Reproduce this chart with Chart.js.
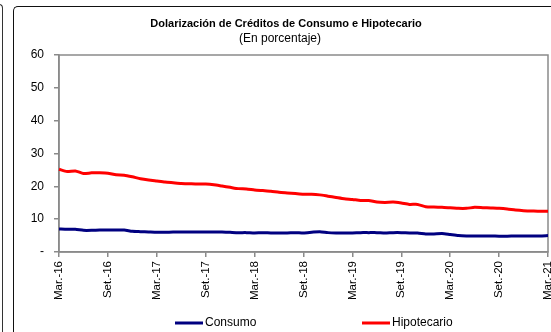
<!DOCTYPE html>
<html>
<head>
<meta charset="utf-8">
<script src="https://cdn.jsdelivr.net/npm/chart.js@4/dist/chart.umd.min.js"></script>
<style>
  html, body { margin: 0; padding: 0; background: #fff; }
  #wrap { position: relative; width: 551px; height: 332px; overflow: hidden; }
  #prev { position: absolute; left: -120px; top: 4px; width: 122px; height: 400px;
          border-top: 1.5px solid #333; border-right: 1.5px solid #333; border-top-right-radius: 4px; }
  #frame { position: absolute; left: 13px; top: 6px; width: 600px; height: 400px;
           border-top: 1.5px solid #111; border-left: 1.5px solid #111; border-top-left-radius: 5px; }
  canvas { position: absolute; left: 0; top: 0; }
</style>
</head>
<body>
<div id="wrap">
  <div id="prev"></div>
  <div id="frame"></div>
  <canvas id="c" width="551" height="332"></canvas>
</div>
<script>
// Monthly series, March 2016 to March 2021 (percent of loans in US dollars)
const meses = ['Ene.', 'Feb.', 'Mar.', 'Abr.', 'May.', 'Jun.', 'Jul.', 'Ago.', 'Set.', 'Oct.', 'Nov.', 'Dic.'];
const anioInicio = 2016, mesInicio = 2, totalMeses = 61;

const consumo = [
  7.0, 6.9, 6.9, 6.6, 6.6, 6.7, 6.7, 6.7, 6.7, 6.3,
  6.2, 6.1, 6.0, 6.0, 6.1, 6.1, 6.1, 6.1, 6.1, 6.1,
  6.1, 6.0, 5.9, 5.9, 5.8, 5.9, 5.8, 5.8, 5.8, 5.9,
  5.8, 6.0, 6.2, 5.9, 5.8, 5.8, 5.8, 5.9, 5.9, 5.9,
  5.8, 5.9, 5.9, 5.8, 5.8, 5.5, 5.5, 5.6, 5.3, 5.0,
  4.9, 4.9, 4.9, 4.9, 4.8, 4.8, 4.9, 4.9, 4.9, 4.9, 5.0
];
const hipotecario = [
  25.2, 24.5, 24.7, 23.9, 24.1, 24.1, 24.0, 23.5, 23.4, 22.9,
  22.3, 21.9, 21.6, 21.3, 21.1, 20.9, 20.8, 20.7, 20.7, 20.5,
  20.1, 19.7, 19.3, 19.2, 18.9, 18.7, 18.5, 18.2, 18.0, 17.8,
  17.6, 17.6, 17.4, 17.0, 16.6, 16.2, 16.0, 15.7, 15.7, 15.2,
  15.1, 15.2, 14.9, 14.5, 14.5, 13.8, 13.7, 13.6, 13.5, 13.3,
  13.3, 13.6, 13.5, 13.4, 13.3, 13.1, 12.8, 12.6, 12.5, 12.4, 12.4
];
const yTicks = [0, 10, 20, 30, 40, 50, 60];

const categorias = [];
for (let i = 0; i < totalMeses; i++) {
  const m = (mesInicio + i) % 12;
  const a = anioInicio + Math.floor((mesInicio + i) / 12);
  categorias.push(meses[m] + '-' + String(a).slice(2));
}

const FONT = "'Liberation Sans', Arial, sans-serif";
const AXIS_GRAY = '#8a8a8a';

// Gray box around the plotting area
const plotBox = {
  id: 'plotBox',
  beforeDatasetsDraw(chart) {
    const { ctx, chartArea: a } = chart;
    ctx.save();
    ctx.strokeStyle = AXIS_GRAY;
    ctx.lineWidth = 1.5;
    ctx.strokeRect(a.left, a.top, a.right - a.left, a.bottom - a.top);
    ctx.restore();
  }
};

// Heading and subtitle
const heading = {
  id: 'heading',
  afterDraw(chart) {
    const ctx = chart.ctx;
    ctx.save();
    ctx.fillStyle = '#000';
    ctx.textAlign = 'center';
    ctx.textBaseline = 'middle';
    ctx.font = 'bold 11px ' + FONT;
    ctx.fillText('Dolarización de Créditos de Consumo e Hipotecario', 286, 24);
    ctx.font = '12px ' + FONT;
    ctx.fillText('(En porcentaje)', 280, 39);
    ctx.restore();
  }
};

// Legend row below the axis labels
const legendRow = {
  id: 'legendRow',
  afterDraw(chart) {
    const ctx = chart.ctx;
    const xs = [175, 362];
    const y = 323;
    ctx.save();
    ctx.font = '12px ' + FONT;
    ctx.textBaseline = 'middle';
    ctx.textAlign = 'left';
    chart.data.datasets.forEach((ds, i) => {
      ctx.strokeStyle = ds.borderColor;
      ctx.lineWidth = 3;
      ctx.beginPath();
      ctx.moveTo(xs[i], y);
      ctx.lineTo(xs[i] + 28, y);
      ctx.stroke();
      ctx.fillStyle = '#000';
      ctx.fillText(ds.label, xs[i] + 30, y);
    });
    ctx.restore();
  }
};

new Chart(document.getElementById('c'), {
  type: 'line',
  data: {
    labels: categorias,
    datasets: [
      { label: 'Consumo', data: consumo, borderColor: '#000080', borderWidth: 3,
        pointRadius: 0, tension: 0.2, fill: false },
      { label: 'Hipotecario', data: hipotecario, borderColor: '#ff0000', borderWidth: 3,
        pointRadius: 0, tension: 0.2, fill: false }
    ]
  },
  options: {
    responsive: false,
    animation: false,
    events: [],
    layout: { padding: { top: 55, left: 0, right: 3, bottom: 32 } },
    plugins: { legend: { display: false }, title: { display: false }, tooltip: { enabled: false } },
    scales: {
      x: {
        offset: false,
        grid: { display: true, drawOnChartArea: false, drawTicks: true, tickLength: 5, color: AXIS_GRAY, lineWidth: 1.5 },
        border: { display: true, color: AXIS_GRAY, width: 1.5 },
        ticks: {
          autoSkip: false, minRotation: 90, maxRotation: 90, padding: 4,
          color: '#000', font: { family: FONT, size: 11.5 },
          callback(val, idx) { return idx % 6 === 0 ? this.getLabelForValue(val) : null; }
        },
        afterFit(scale) { scale.height = 48; scale.paddingLeft = 0; scale.paddingRight = 0; }
      },
      y: {
        min: 0, max: 60,
        afterBuildTicks(scale) { scale.ticks = yTicks.map(v => ({ value: v })); },
        grid: { display: true, drawOnChartArea: false, drawTicks: true, tickLength: 5, color: AXIS_GRAY, lineWidth: 1.5 },
        border: { display: true, color: AXIS_GRAY, width: 1.5 },
        ticks: {
          padding: 10, color: '#000', font: { family: FONT, size: 12 },
          callback(v) { return v === 0 ? '-' : String(v); }
        },
        afterFit(scale) { scale.width = 59; }
      }
    }
  },
  plugins: [plotBox, heading, legendRow]
});
</script>
</body>
</html>
